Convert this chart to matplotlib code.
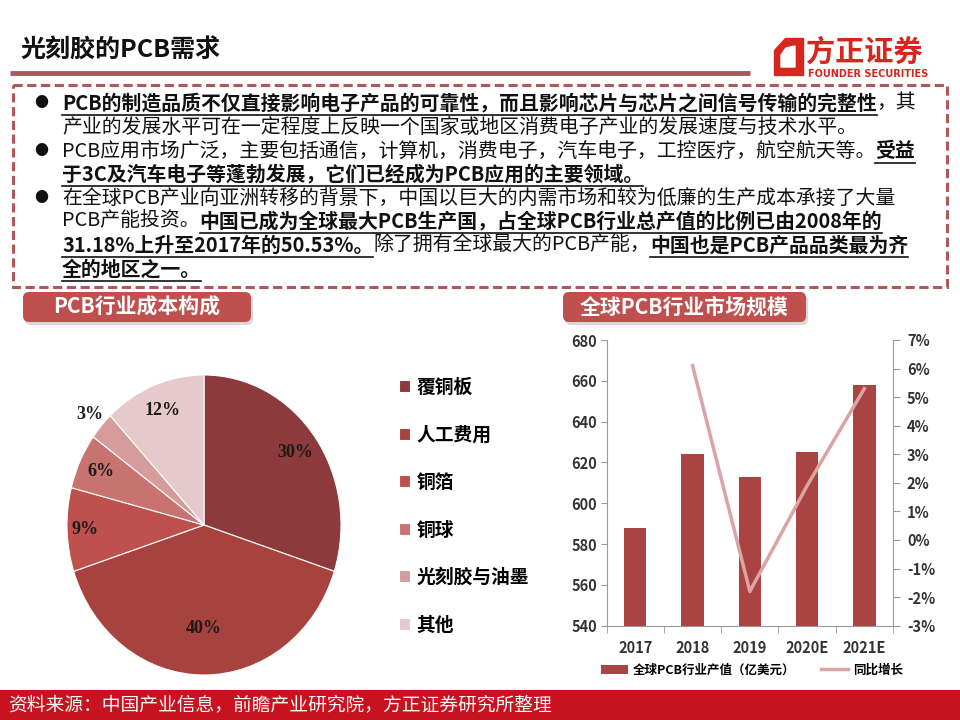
import matplotlib
matplotlib.use('Agg')
import matplotlib.pyplot as plt
from matplotlib.patches import FancyBboxPatch, Rectangle, Polygon
import numpy as np

plt.rcParams['font.family'] = ['Noto Sans CJK SC', 'DejaVu Sans']

# Pie data: PCB cost structure
cost_labels = ['覆铜板', '人工费用', '铜箔', '铜球', '光刻胶与油墨', '其他']
cost_share = [30, 40, 9, 6, 3, 12]
cost_colors = ['#8C3A3B', '#A8423F', '#BE504E', '#C97371', '#D69C9C', '#E6C9CA']
label_dist = [0.82, 0.69, 0.87, 0.83, 1.11, 0.82]

# Bar / line data: global PCB market
years = ['2017', '2018', '2019', '2020E', '2021E']
output_value = [588, 624, 613, 625, 658]
growth_idx = [1, 2, 3, 4]
growth = [6.1, -1.8, 1.9, 5.3]

# Bullet text, split into (text, emphasised) runs per line
bullet_lines = [
    (True, [('PCB的制造品质不仅直接影响电子产品的可靠性，而且影响芯片与芯片之间信号传输的完整性', True), ('，其', False)]),
    (False, [('产业的发展水平可在一定程度上反映一个国家或地区消费电子产业的发展速度与技术水平。', False)]),
    (True, [('PCB应用市场广泛，主要包括通信，计算机，消费电子，汽车电子，工控医疗，航空航天等。', False), ('受益', True)]),
    (False, [('于3C及汽车电子等蓬勃发展，它们已经成为PCB应用的主要领域。', True)]),
    (True, [('在全球PCB产业向亚洲转移的背景下，中国以巨大的内需市场和较为低廉的生产成本承接了大量', False)]),
    (False, [('PCB产能投资。', False), ('中国已成为全球最大PCB生产国，占全球PCB行业总产值的比例已由2008年的', True)]),
    (False, [('31.18%上升至2017年的50.53%。', True), ('除了拥有全球最大的PCB产能，', False), ('中国也是PCB产品品类最为齐', True)]),
    (False, [('全的地区之一。', True)]),
]

red = '#C0504D'
gray = '#9A9A9A'

fig = plt.figure(figsize=(9.6, 7.2), dpi=100)
fig.patch.set_facecolor('white')
renderer = fig.canvas.get_renderer()

# Full-figure layer in pixel units for slide decoration and text
bg = fig.add_axes([0, 0, 1, 1])
bg.set_xlim(0, 960)
bg.set_ylim(720, 0)
bg.axis('off')

# Title and rule
bg.text(20, 51, '光刻胶的PCB需求', fontsize=18, fontweight='bold', va='center', color='#111111')
bg.plot([10, 750], [73, 73], color='#A65A5F', lw=3.5, solid_capstyle='butt')

# Logo
bg.add_patch(Polygon([(785, 38), (803, 38), (803, 75), (774, 75), (774, 50)],
                     closed=True, color='#D7261E'))
bg.add_patch(Polygon([(786, 48), (795, 46), (795, 67), (781, 67), (781, 55)],
                     closed=True, color='white'))
bg.text(806, 52, '方正证券', fontsize=21, fontweight='bold', va='center', color='#D7261E')
bg.text(808, 74, 'FOUNDER SECURITIES', fontsize=7, fontweight='bold', va='center',
        color='#D7261E', family='DejaVu Sans')

# Dashed text box
bg.add_patch(Rectangle((13, 85), 934, 202, fill=False, edgecolor='#B0575C',
                       lw=2.2, linestyle=(0, (3, 1.5))))

line_y = [103, 127, 151, 174, 198, 221, 245, 269]
for y, (has_bullet, runs) in zip(line_y, bullet_lines):
    if has_bullet:
        bg.text(41, y, '●', fontsize=10, va='center', ha='center', color='#111111')
    x = 62
    for text, emph in runs:
        t = bg.text(x, y, text, fontsize=14.3, va='center', ha='left', color='#111111',
                    fontweight='bold' if emph else 'normal')
        w = t.get_window_extent(renderer=renderer).width
        if emph:
            bg.plot([x, x + w], [y + 11.5, y + 11.5], color='#111111', lw=1.2)
        x += w

# Section headers
for x0, x1, label in [(23, 251, 'PCB行业成本构成'), (563, 806, '全球PCB行业市场规模')]:
    bg.add_patch(FancyBboxPatch((x0 + 2, 295), x1 - x0, 30,
                                boxstyle='round,pad=0,rounding_size=6',
                                color='#D9D9D9', lw=0))
    bg.add_patch(FancyBboxPatch((x0, 292), x1 - x0, 30,
                                boxstyle='round,pad=0,rounding_size=6',
                                color=red, lw=0))
    bg.text((x0 + x1) / 2, 307, label, fontsize=15, fontweight='bold', color='white',
            ha='center', va='center')

# Footer
bg.add_patch(Rectangle((0, 690), 960, 30, color='#C9121F', lw=0))
bg.text(8, 705, '资料来源：中国产业信息，前瞻产业研究院，方正证券研究所整理',
        fontsize=13.5, color='white', va='center')

# Pie chart
pie_ax = fig.add_axes([(204 - 137) / 960, 1 - (525 + 150) / 720, 274 / 960, 300 / 720])
wedges, _ = pie_ax.pie(cost_share, colors=cost_colors, startangle=90, counterclock=False,
                       wedgeprops=dict(edgecolor='white', linewidth=0.8))
pie_ax.set_aspect('auto')
pie_ax.set_xlim(-1, 1)
pie_ax.set_ylim(-1, 1)
for w, v, d in zip(wedges, cost_share, label_dist):
    ang = np.deg2rad((w.theta1 + w.theta2) / 2)
    pie_ax.text(d * np.cos(ang), d * np.sin(ang), f'{v}%', ha='center', va='center',
                family='Liberation Serif', fontweight='bold', fontsize=13, color='#1A1A1A')

fig.legend(wedges, cost_labels, loc='upper left', bbox_to_anchor=(399 / 960, 1 - 378 / 720),
           frameon=False, prop=dict(weight='bold', size=13.5), handlelength=0.6,
           handleheight=0.6, handletextpad=0.35, labelspacing=1.52, borderpad=0,
           borderaxespad=0)

# Bar + line chart
bar_ax = fig.add_axes([606.7 / 960, 1 - 625.7 / 720, 286.3 / 960, 285.7 / 720])
x = np.arange(len(years))
bars = bar_ax.bar(x, output_value, width=0.39, color='#A94442')
bar_ax.set_ylim(540, 680)
bar_ax.set_yticks(range(540, 681, 20))
bar_ax.set_xlim(-0.5, 4.5)
bar_ax.set_xticks(x)
bar_ax.set_xticklabels(years)
bar_ax.set_xticks(np.arange(-0.5, 4.6, 1), minor=True)
bar_ax.tick_params(axis='x', which='major', length=0, pad=10)
bar_ax.tick_params(axis='x', which='minor', length=5, color=gray)
bar_ax.tick_params(axis='y', length=4, color=gray, pad=3)
for lab in bar_ax.get_xticklabels() + bar_ax.get_yticklabels():
    lab.set_fontweight('bold')
    lab.set_fontsize(10.5)
    lab.set_color('#333333')
for side in ['top', 'right']:
    bar_ax.spines[side].set_visible(False)
for side in ['left', 'bottom']:
    bar_ax.spines[side].set_color(gray)

ax2 = bar_ax.twinx()
line, = ax2.plot(growth_idx, growth, color='#DBA3A4', lw=2.5)
ax2.set_ylim(-3, 7)
ax2.set_yticks(range(-3, 8))
ax2.set_yticklabels([f'{v}%' for v in range(-3, 8)])
ax2.tick_params(axis='y', length=5, color=gray, pad=5)
for lab in ax2.get_yticklabels():
    lab.set_fontweight('bold')
    lab.set_fontsize(10.5)
    lab.set_color('#333333')
for side in ['top', 'left', 'bottom']:
    ax2.spines[side].set_visible(False)
ax2.spines['right'].set_color(gray)

fig.legend([bars, line], ['全球PCB行业产值（亿美元）', '同比增长'], loc='center',
           bbox_to_anchor=(752 / 960, 1 - 670 / 720), ncol=2, frameon=False,
           prop=dict(weight='bold', size=9), handlelength=2.2, handletextpad=0.4,
           columnspacing=2.0)

fig.savefig('out.png', dpi=100)
